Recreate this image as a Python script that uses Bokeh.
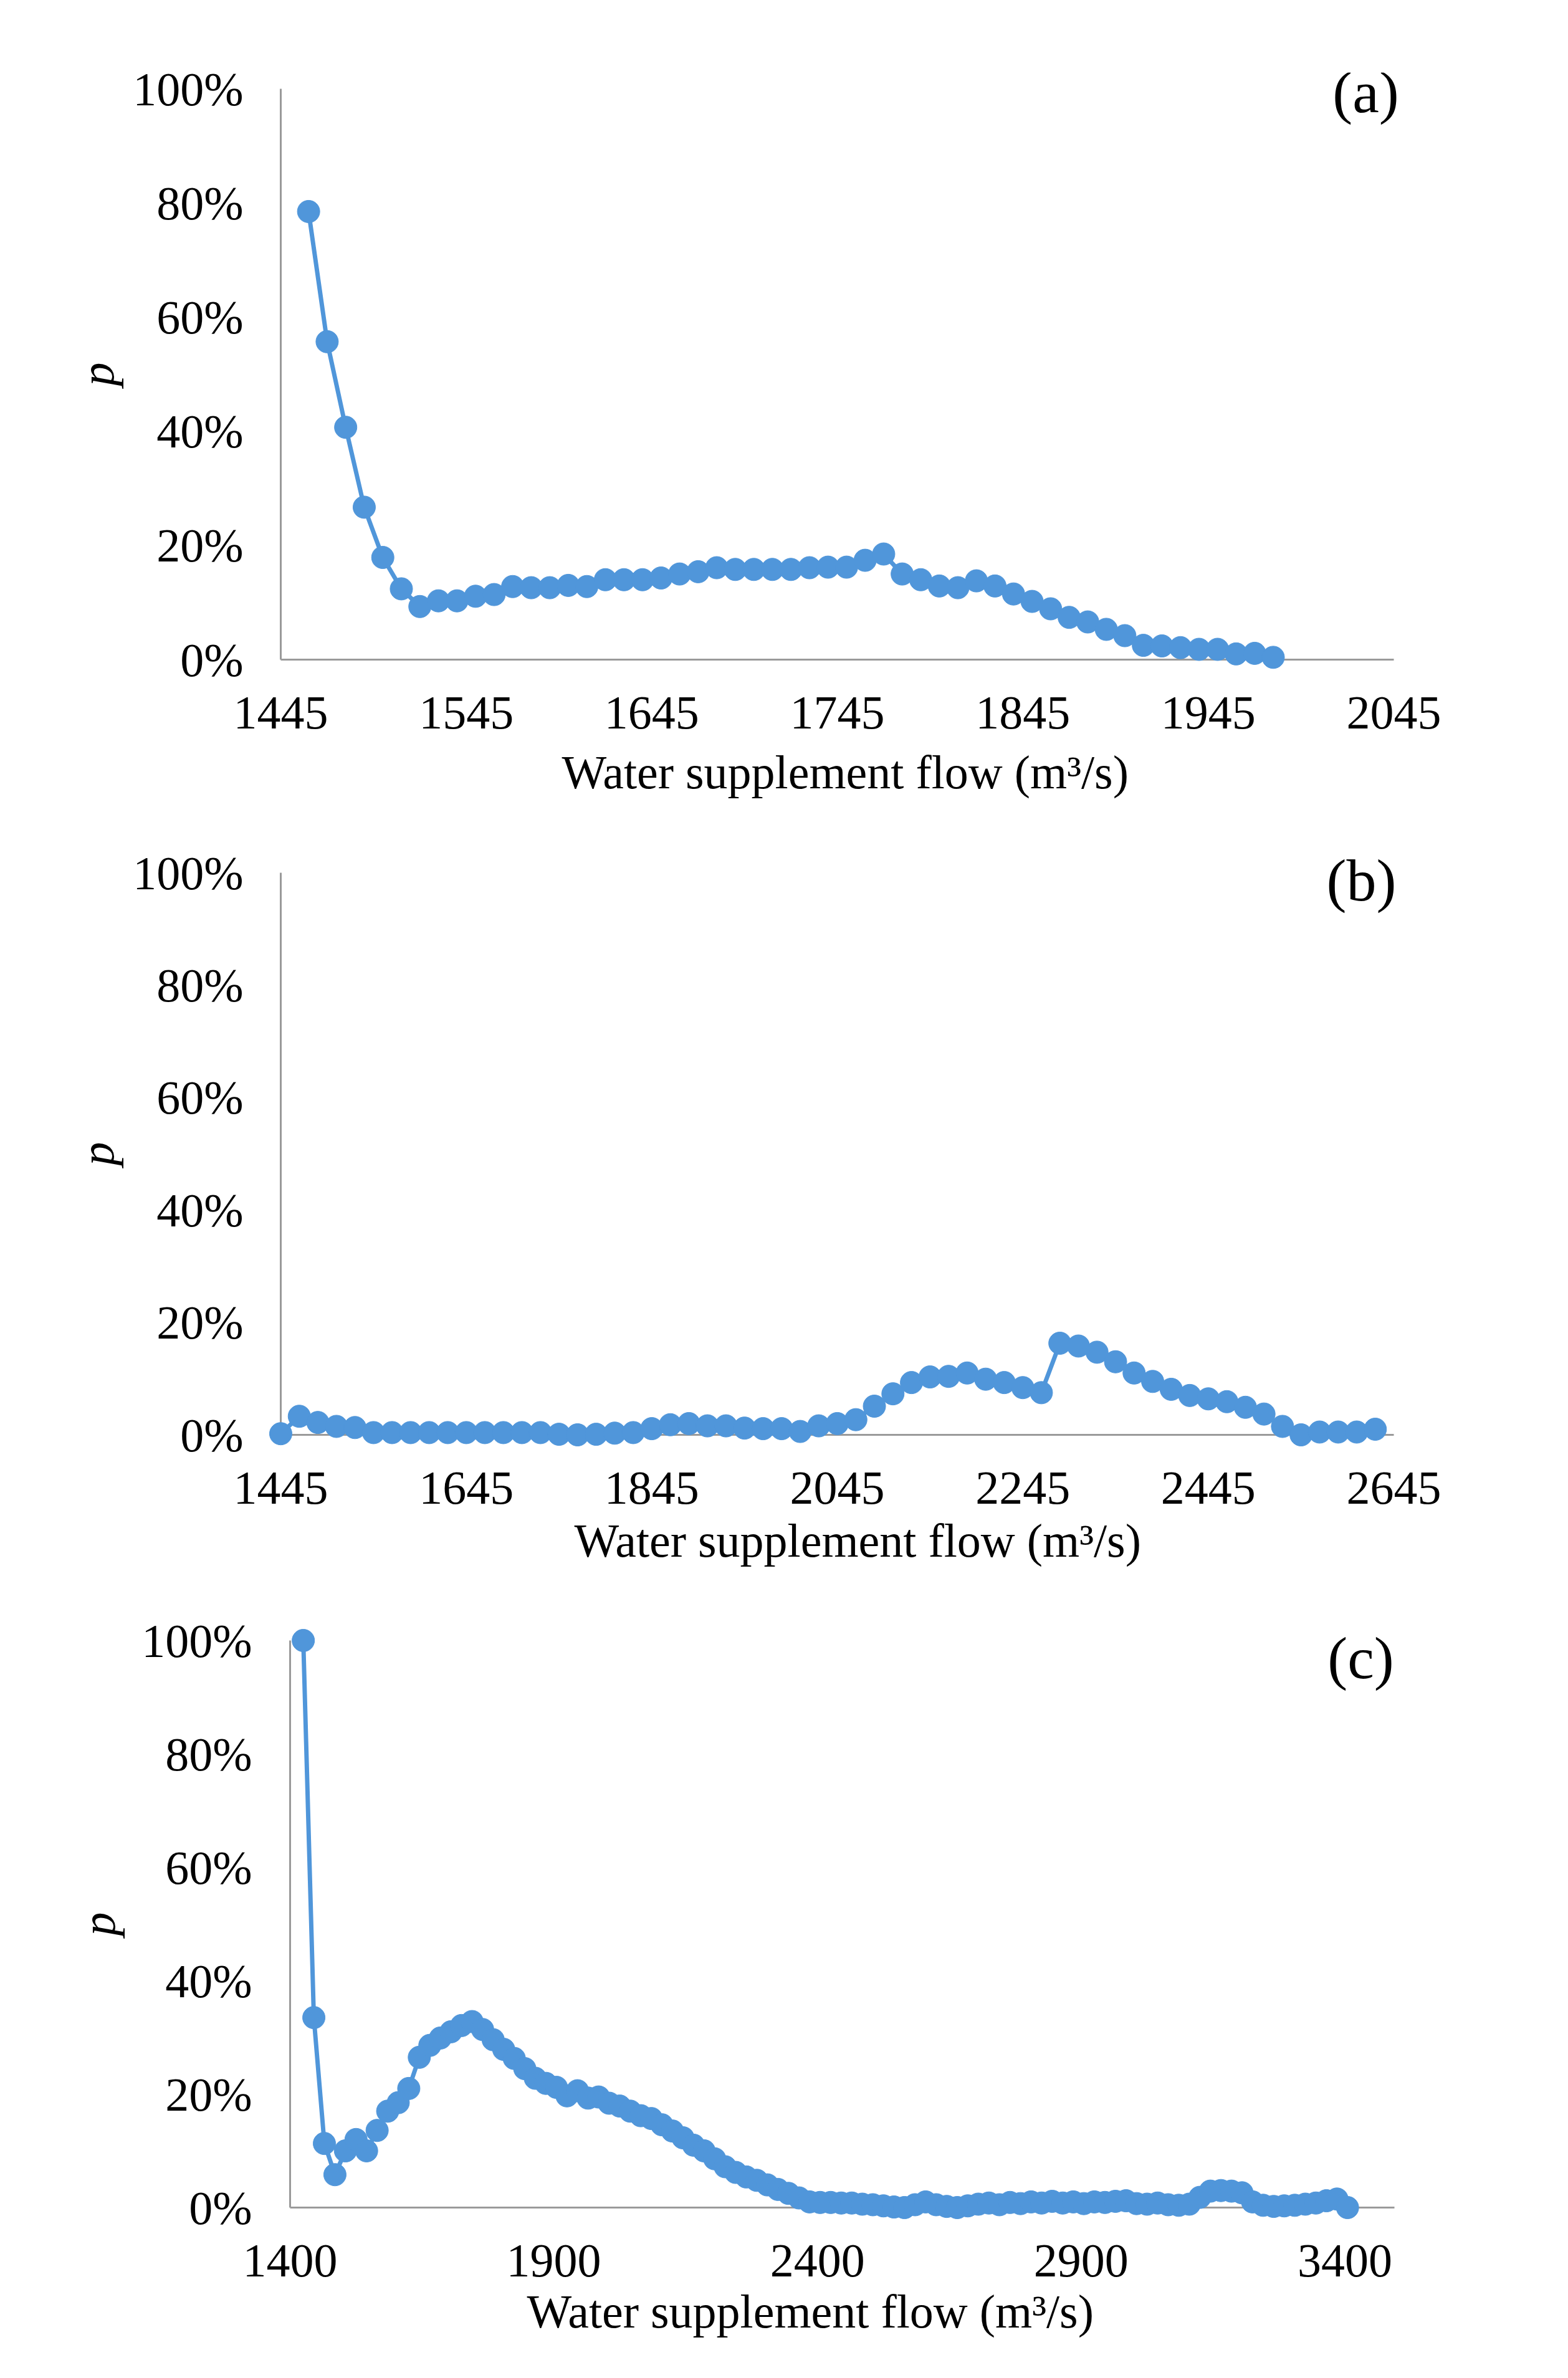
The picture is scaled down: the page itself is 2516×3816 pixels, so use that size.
from bokeh.plotting import figure
from bokeh.models import Range1d, FixedTicker, NumeralTickFormatter, Label, Title
from bokeh.layouts import column
from bokeh.embed import file_html
from bokeh.resources import INLINE

# ---------------- data ----------------
flow_a = [1460, 1470, 1480, 1490, 1500, 1510, 1520, 1530, 1540, 1550,
          1560, 1570, 1580, 1590, 1600, 1610, 1620, 1630, 1640, 1650,
          1660, 1670, 1680, 1690, 1700, 1710, 1720, 1730, 1740, 1750,
          1760, 1770, 1780, 1790, 1800, 1810, 1820, 1830, 1840, 1850,
          1860, 1870, 1880, 1890, 1900, 1910, 1920, 1930, 1940, 1950,
          1960, 1970, 1980]
p_a = [78.5, 55.7, 40.7, 26.7, 17.9, 12.4, 9.3, 10.3, 10.3, 11.1,
       11.4, 12.8, 12.6, 12.6, 13.0, 12.8, 14.0, 14.0, 14.0, 14.3,
       15.0, 15.4, 16.1, 15.8, 15.8, 15.8, 15.8, 16.1, 16.2, 16.2,
       17.4, 18.5, 15.0, 14.0, 12.9, 12.6, 13.8, 12.9, 11.5, 10.2,
       8.9, 7.4, 6.6, 5.3, 4.2, 2.5, 2.4, 2.1, 1.8, 1.8,
       1.0, 1.1, 0.4]

flow_b = [1445, 1465, 1485, 1505, 1525, 1545, 1565, 1585, 1605, 1625,
          1645, 1665, 1685, 1705, 1725, 1745, 1765, 1785, 1805, 1825,
          1845, 1865, 1885, 1905, 1925, 1945, 1965, 1985, 2005, 2025,
          2045, 2065, 2085, 2105, 2125, 2145, 2165, 2185, 2205, 2225,
          2245, 2265, 2285, 2305, 2325, 2345, 2365, 2385, 2405, 2425,
          2445, 2465, 2485, 2505, 2525, 2545, 2565, 2585, 2605, 2625]
p_b = [0.2, 3.3, 2.2, 1.5, 1.3, 0.4, 0.4, 0.4, 0.4, 0.4,
       0.4, 0.4, 0.4, 0.4, 0.4, 0.1, 0.0, 0.1, 0.3, 0.4,
       1.1, 1.8, 2.0, 1.6, 1.6, 1.2, 1.1, 1.1, 0.6, 1.6,
       2.0, 2.7, 5.1, 7.3, 9.3, 10.3, 10.4, 11.0, 9.9, 9.3,
       8.4, 7.5, 16.3, 15.8, 14.7, 13.0, 11.0, 9.5, 8.1, 7.0,
       6.4, 5.9, 4.9, 3.7, 1.5, 0.0, 0.5, 0.5, 0.5, 1.0]

flow_c = [1425, 1445, 1465, 1485, 1505, 1525, 1545, 1565, 1585, 1605,
          1625, 1645, 1665, 1685, 1705, 1725, 1745, 1765, 1785, 1805,
          1825, 1845, 1865, 1885, 1905, 1925, 1945, 1965, 1985, 2005,
          2025, 2045, 2065, 2085, 2105, 2125, 2145, 2165, 2185, 2205,
          2225, 2245, 2265, 2285, 2305, 2325, 2345, 2365, 2385, 2405,
          2425, 2445, 2465, 2485, 2505, 2525, 2545, 2565, 2585, 2605,
          2625, 2645, 2665, 2685, 2705, 2725, 2745, 2765, 2785, 2805,
          2825, 2845, 2865, 2885, 2905, 2925, 2945, 2965, 2985, 3005,
          3025, 3045, 3065, 3085, 3105, 3125, 3145, 3165, 3185, 3205,
          3225, 3245, 3265, 3285, 3305, 3325, 3345, 3365, 3385, 3405]
p_c = [100.0, 33.5, 11.3, 5.8, 10.0, 12.0, 10.0, 13.6, 17.0, 18.5,
       21.0, 26.5, 28.6, 29.9, 31.0, 32.1, 32.8, 31.4, 29.6, 27.9,
       26.3, 24.5, 22.8, 21.9, 21.2, 19.7, 20.6, 19.3, 19.5, 18.4,
       17.9, 17.0, 16.2, 15.7, 14.6, 13.5, 12.3, 11.0, 10.0, 8.6,
       7.2, 6.2, 5.4, 4.8, 4.0, 3.2, 2.5, 1.7, 1.0, 0.9,
       0.9, 0.8, 0.8, 0.6, 0.5, 0.3, 0.1, 0.0, 0.5, 1.0,
       0.5, 0.2, 0.0, 0.3, 0.6, 0.8, 0.5, 0.9, 0.7, 1.0,
       0.8, 1.1, 0.8, 1.0, 0.7, 1.0, 0.9, 1.1, 1.2, 0.7,
       0.6, 0.8, 0.5, 0.4, 0.6, 1.8, 2.9, 3.0, 2.9, 2.6,
       1.0, 0.4, 0.2, 0.3, 0.4, 0.6, 0.8, 1.2, 1.5, 0.0]

xticks_a = [1445, 1545, 1645, 1745, 1845, 1945, 2045]
xticks_b = [1445, 1645, 1845, 2045, 2245, 2445, 2645]
xticks_c = [1400, 1900, 2400, 2900, 3400]
yticks = [0, 0.2, 0.4, 0.6, 0.8, 1.0]
tags = ["(a)", "(b)", "(c)"]
x_title = "Water supplement flow (m\u00b3/s)"
y_title = "p"

# ---------------- style ----------------
BLUE = "#5096DA"
AXIS_GRAY = "#9A9A9A"
FONT = "Liberation Serif"
PAGE_W = 2500
PAD = 26          # vertical padding (px) so markers at 0/100% are not clipped
FL, FR = 432, 2300  # common frame left/right (page px) for all three panels


def panel(xs, ys, xticks, xmin, xmax, tag, top, h, y100, y0, xl, xr,
          tag_px, tag_py, ylab_right, tick_standoff, title_left, title_standoff,
          p_standoff):
    ppx = (xr - xl) / (xmax - xmin)
    ppy = (y0 - y100)
    p = figure(width=PAGE_W, height=h, output_backend="svg", toolbar_location=None,
               x_range=Range1d(xmin - (xl - FL) / ppx, xmax + (FR - xr) / ppx),
               y_range=Range1d(-PAD / ppy, 1 + PAD / ppy),
               min_border_left=FL - 8, min_border_right=8 + PAGE_W - FR,
               min_border_top=y100 - PAD - top, min_border_bottom=top + h - (y0 + PAD))
    p.outline_line_color = None
    p.xgrid.visible = False
    p.ygrid.visible = False
    p.background_fill_color = "white"
    p.border_fill_color = "white"

    # Excel-like axis lines
    p.segment(x0=[xmin, xmin], y0=[0, 0], x1=[xmax, xmin], y1=[0, 1],
              line_color=AXIS_GRAY, line_width=3)

    yv = [v / 100.0 for v in ys]
    p.line(xs, yv, line_color=BLUE, line_width=7)
    p.scatter(xs, yv, marker="circle", size=36, fill_color=BLUE, line_color=BLUE)

    for ax in (p.xaxis[0], p.yaxis[0]):
        ax.axis_line_color = None
        ax.major_tick_line_color = None
        ax.minor_tick_line_color = None
        ax.major_label_text_font = FONT
        ax.major_label_text_font_size = "76px"
        ax.major_label_text_color = "black"
        ax.axis_label_text_font = FONT
        ax.axis_label_text_font_size = "76px"
        ax.axis_label_text_color = "black"

    xa = p.xaxis[0]
    xa.ticker = FixedTicker(ticks=xticks)
    xa.major_label_standoff = tick_standoff

    p.add_layout(Title(text=x_title, align="left", offset=title_left - FL,
                       text_font=FONT, text_font_size="76px", text_font_style="normal",
                       text_color="black", standoff=title_standoff), "below")

    ya = p.yaxis[0]
    ya.ticker = FixedTicker(ticks=yticks)
    ya.formatter = NumeralTickFormatter(format="0%")
    ya.major_label_standoff = FL - ylab_right
    ya.axis_label = y_title
    ya.axis_label_text_font_style = "italic"
    ya.axis_label_standoff = p_standoff

    lx = xmin + (tag_px - xl) / ppx
    ly = (y0 - tag_py) / ppy
    p.add_layout(Label(x=lx, y=ly, text=tag, text_font=FONT, text_font_size="96px",
                       text_align="center", text_baseline="middle", text_color="black"))
    return p


pa = panel(flow_a, p_a, xticks_a, 1445, 2045, tags[0],
           top=8, h=1322, y100=150, y0=1066, xl=458, xr=2244,
           tag_px=2199, tag_py=155, ylab_right=404, tick_standoff=28,
           title_left=909, title_standoff=47, p_standoff=12)
pb = panel(flow_b, p_b, xticks_b, 1445, 2645, tags[1],
           top=1330, h=1240, y100=1408, y0=2310, xl=458, xr=2244,
           tag_px=2192, tag_py=1420, ylab_right=404, tick_standoff=28,
           title_left=929, title_standoff=24, p_standoff=12)
pc = panel(flow_c, p_c, xticks_c, 1400, 3494, tags[2],
           top=2570, h=1238, y100=2640, y0=3550, xl=473, xr=2245,
           tag_px=2191, tag_py=2668, ylab_right=418, tick_standoff=28,
           title_left=853, title_standoff=18, p_standoff=24)

layout = column(pa, pb, pc, spacing=0)
open("out.html", "w").write(file_html(layout, INLINE))
